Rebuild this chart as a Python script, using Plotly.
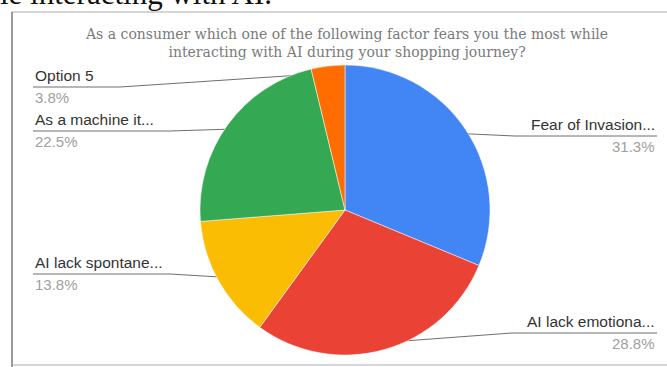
import math
import plotly.graph_objects as go

# ---- data ----
labels = ["Fear of Invasion...", "AI lack emotiona...", "AI lack spontane...",
          "As a machine it...", "Option 5"]
counts = [25, 23, 11, 18, 3]
colors = ["#4285F4", "#EA4335", "#FBBC04", "#34A853", "#FF6D01"]
title_lines = ["As a consumer which one of the following factor fears you the most while",
               "interacting with AI during your shopping journey?"]
top_text = "le interacting with AI."

# ---- layout constants (pixels) ----
W, H = 667, 367
CX, CY, R = 345, 210, 145
label_side = ["right", "right", "left", "left", "left"]
label_line_y = [136, 333, 274, 131, 87]
label_elbow_x = [515, 512, 170, 170, 120]
LEFT_X, RIGHT_X = 33, 657

fig = go.Figure()

fig.add_trace(go.Pie(
    labels=labels, values=counts, sort=False, direction="clockwise", rotation=0,
    marker=dict(colors=colors, line=dict(color="white", width=0.5)),
    textinfo="none", hoverinfo="skip", showlegend=False,
    domain=dict(x=[(CX - R) / W, (CX + R) / W],
                y=[(H - CY - R) / H, (H - CY + R) / H]),
))

total = sum(counts)
cum = 0
annotations = []
for i, v in enumerate(counts):
    theta = 2 * math.pi * (cum + v / 2) / total
    cum += v
    dx = CX + 0.95 * R * math.sin(theta)
    dy = CY - 0.95 * R * math.cos(theta)
    ly = label_line_y[i]
    end_x = RIGHT_X if label_side[i] == "right" else LEFT_X
    fig.add_trace(go.Scatter(
        x=[dx, label_elbow_x[i], end_x], y=[dy, ly, ly], mode="lines",
        line=dict(color="#6e6e6e", width=1), hoverinfo="skip", showlegend=False))
    fig.add_trace(go.Scatter(
        x=[dx], y=[dy], mode="markers", marker=dict(color="#9a9a9a", size=4),
        hoverinfo="skip", showlegend=False))
    pct = f"{round(100 * v / total + 1e-9, 1):.1f}%"
    anchor = "right" if label_side[i] == "right" else "left"
    annotations.append(dict(x=end_x, y=ly - 1, xref="x", yref="y", text=labels[i],
                            showarrow=False, xanchor=anchor, yanchor="bottom",
                            font=dict(family="Arial", size=15.5, color="#333333")))
    annotations.append(dict(x=end_x, y=ly, xref="x", yref="y", text=pct,
                            showarrow=False, xanchor=anchor, yanchor="top",
                            font=dict(family="Arial", size=15, color="#a0a0a0")))

annotations.append(dict(x=346, y=43, xref="x", yref="y", text="<br>".join(title_lines),
                        showarrow=False, xanchor="center", yanchor="middle", align="center",
                        font=dict(family="DejaVu Serif", size=14, color="#7a7a7a")))
annotations.append(dict(x=0, y=13, xref="x", yref="y", text=top_text, xshift=-2,
                        showarrow=False, xanchor="left", yanchor="bottom",
                        font=dict(family="Liberation Serif", size=31, color="#111111")))

fig.update_layout(
    width=W, height=H, margin=dict(l=0, r=0, t=0, b=0),
    paper_bgcolor="white", plot_bgcolor="rgba(0,0,0,0)",
    xaxis=dict(range=[0, W], visible=False, fixedrange=True),
    yaxis=dict(range=[H, 0], visible=False, fixedrange=True),
    annotations=annotations,
    shapes=[
        dict(type="rect", xref="x", yref="y", x0=12, y0=12, x1=W + 5, y1=365,
             line=dict(color="#c8c8c8", width=1.5), layer="below"),
        dict(type="line", xref="x", yref="y", x0=12, y0=12, x1=12, y1=H,
             line=dict(color="#9a9a9a", width=2)),
    ],
)

fig.write_html("out.html")
